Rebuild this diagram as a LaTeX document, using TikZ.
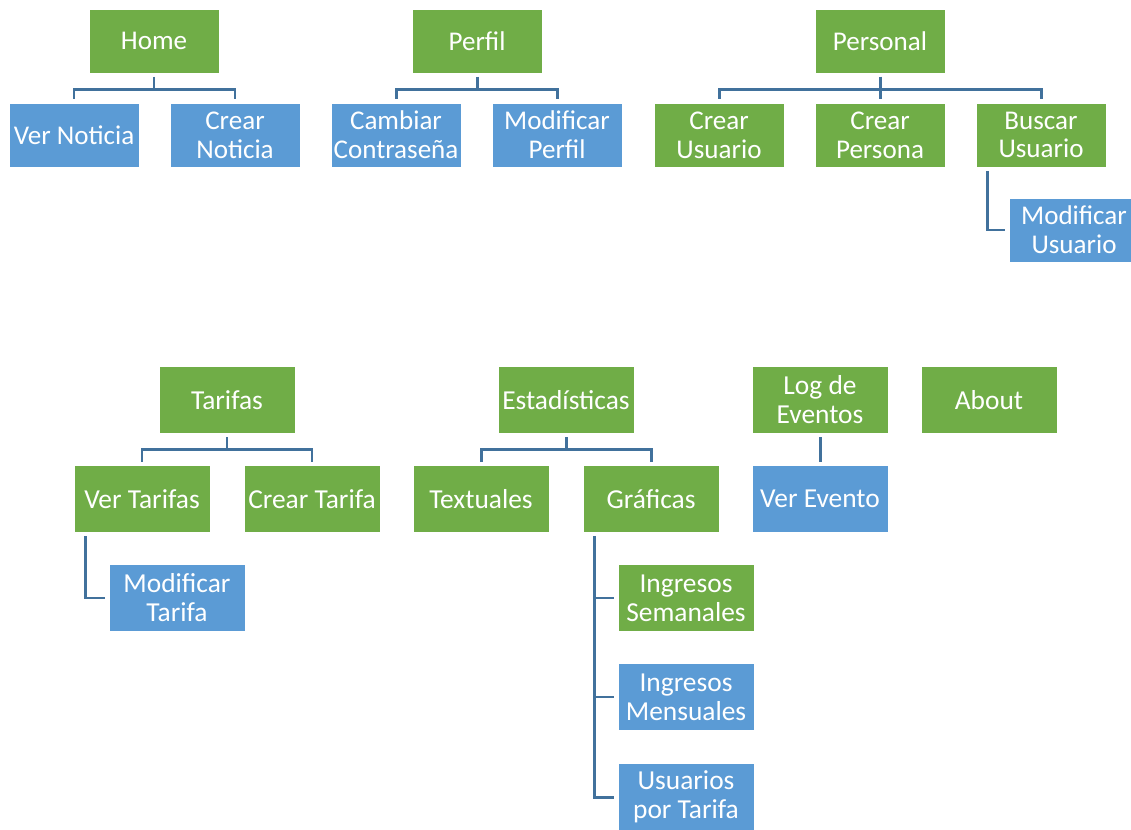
\documentclass[tikz,border=0pt]{standalone}
\usepackage{fontspec}
\setmainfont{Carlito}
\usetikzlibrary{calc}
\definecolor{cverde}{RGB}{112,173,71}
\definecolor{cazul}{RGB}{91,155,213}
\definecolor{clinea}{RGB}{65,113,156}

\begin{document}
\begin{tikzpicture}[x=0.02cm,y=-0.02cm]
\tikzset{caja/.style={draw=white, line width=0.4pt, text=white, align=center, inner sep=1pt, minimum width=2.72cm, minimum height=1.34cm, font=\fontsize{15.6}{16.5}\selectfont},
chica/.style={minimum width=2.6cm, minimum height=1.28cm, font=\fontsize{15.4}{16.4}\selectfont},
verde/.style={caja, fill=cverde},
azul/.style={caja, fill=cazul},
rama/.style={draw=clinea, line width=1.7pt, shorten <=0.07cm, shorten >=0.07cm}}
\useasboundingbox (0,0) rectangle (1131,830);
\node[verde,chica] (home) at (154,41) {Home};
\node[azul,chica] (verNoticia) at (74,135) {Ver Noticia};
\node[azul,chica] (crearNoticia) at (235,135) {Crear\\Noticia};
\node[verde,chica] (perfil) at (477,41) {Perfil};
\node[azul,chica] (cambiarPass) at (396,135) {Cambiar\\Contraseña};
\node[azul,chica] (modPerfil) at (557,135) {Modificar\\Perfil};
\node[verde,chica] (personal) at (880,41) {Personal};
\node[verde,chica] (crearUsuario) at (719,135) {Crear\\Usuario};
\node[verde,chica] (crearPersona) at (880,135) {Crear\\Persona};
\node[verde,chica] (buscarUsuario) at (1041,135) {Buscar\\Usuario};
\node[azul,chica] (modUsuario) at (1074,230) {Modificar\\Usuario};
\node[verde] (tarifas) at (227,400) {Tarifas};
\node[verde] (verTarifas) at (142,499) {Ver Tarifas};
\node[verde] (crearTarifa) at (312,499) {Crear Tarifa};
\node[azul] (modTarifa) at (177,598) {Modificar\\Tarifa};
\node[verde] (estadisticas) at (566,400) {Estadísticas};
\node[verde] (textuales) at (481,499) {Textuales};
\node[verde] (graficas) at (651,499) {Gráficas};
\node[verde] (semanales) at (686,598) {Ingresos\\Semanales};
\node[azul] (mensuales) at (686,697) {Ingresos\\Mensuales};
\node[azul] (porTarifa) at (686,797) {Usuarios\\por Tarifa};
\node[verde] (logEventos) at (820,400) {Log de\\Eventos};
\node[azul] (verEvento) at (820,499) {Ver Evento};
\node[verde] (about) at (989,400) {About};
\draw[rama] (home.south) -- ++(0,16) -| (verNoticia.north);
\draw[rama] (home.south) -- ++(0,16) -| (crearNoticia.north);
\draw[rama] (perfil.south) -- ++(0,16) -| (cambiarPass.north);
\draw[rama] (perfil.south) -- ++(0,16) -| (modPerfil.north);
\draw[rama] (personal.south) -- ++(0,16) -| (crearUsuario.north);
\draw[rama] (personal.south) -- (crearPersona.north);
\draw[rama] (personal.south) -- ++(0,16) -| (buscarUsuario.north);
\draw[rama] ($(buscarUsuario.south west)+(12,0)$) |- (modUsuario.west);
\draw[rama] (tarifas.south) -- ++(0,16) -| (verTarifas.north);
\draw[rama] (tarifas.south) -- ++(0,16) -| (crearTarifa.north);
\draw[rama] ($(verTarifas.south west)+(12,0)$) |- (modTarifa.west);
\draw[rama] (estadisticas.south) -- ++(0,16) -| (textuales.north);
\draw[rama] (estadisticas.south) -- ++(0,16) -| (graficas.north);
\draw[rama] ($(graficas.south west)+(12,0)$) |- (semanales.west);
\draw[rama] ($(graficas.south west)+(12,0)$) |- (mensuales.west);
\draw[rama] ($(graficas.south west)+(12,0)$) |- (porTarifa.west);
\draw[rama] (logEventos.south) -- (verEvento.north);
\end{tikzpicture}
\end{document}
